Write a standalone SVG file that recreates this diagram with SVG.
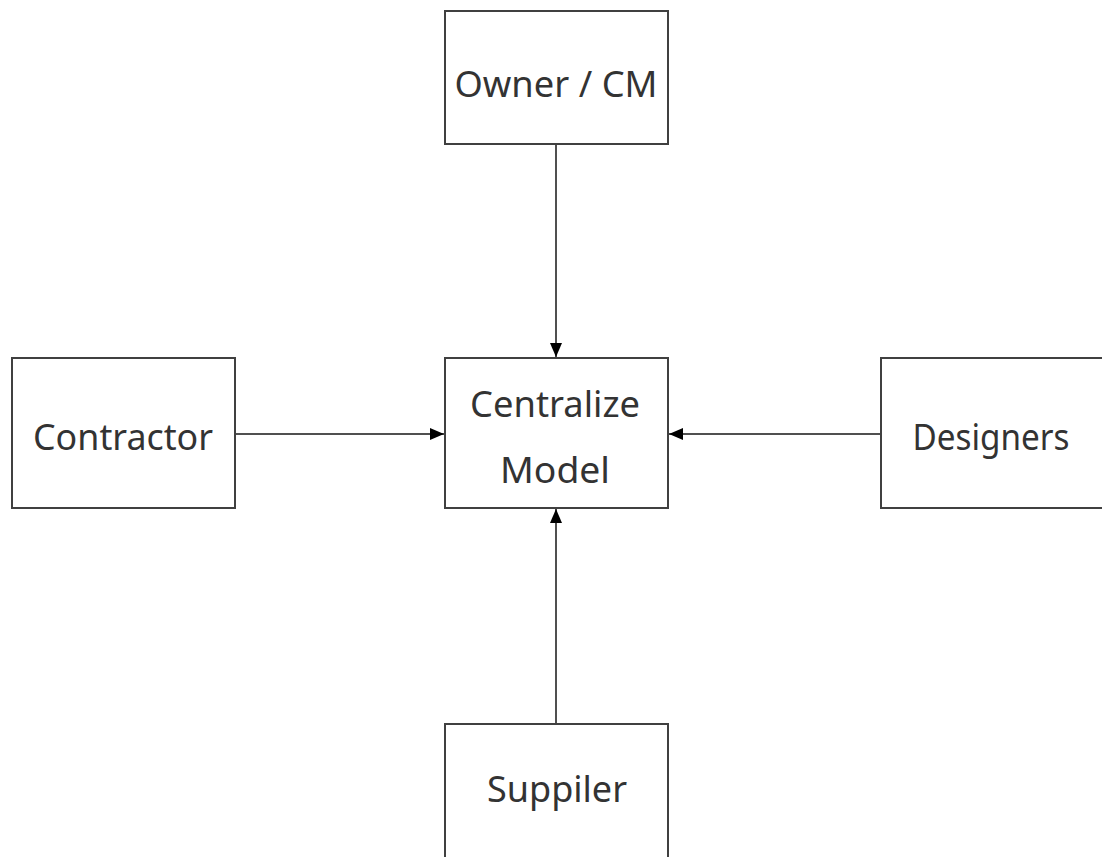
<svg xmlns="http://www.w3.org/2000/svg" width="1102" height="857" viewBox="0 0 1102 857">
  <style>
    .box { fill: #ffffff; stroke: #404040; stroke-width: 2; }
    .label { font-family: "Noto Sans", "Open Sans", sans-serif; font-size: 36px; fill: #333333; text-anchor: middle; }
    .conn { stroke: #505050; stroke-width: 2; fill: none; marker-end: url(#arrow); }
  </style>
  <defs>
    <marker id="arrow" viewBox="0 0 14 12" refX="14" refY="6" markerWidth="14" markerHeight="12" markerUnits="userSpaceOnUse" orient="auto">
      <path d="M0,0 L14,6 L0,12 Z" fill="#000000"/>
    </marker>
  </defs>
  <rect width="1102" height="857" fill="#ffffff"/>

  <g id="connectors">
    <line class="conn" x1="556" y1="145" x2="556" y2="357"/>
    <line class="conn" x1="236" y1="434" x2="444" y2="434"/>
    <line class="conn" x1="881" y1="434" x2="669" y2="434"/>
    <line class="conn" x1="556" y1="723" x2="556" y2="509"/>
  </g>

  <g id="owner">
    <rect class="box" x="445" y="11" width="223" height="133"/>
    <text class="label" x="556" y="97" textLength="203" lengthAdjust="spacingAndGlyphs">Owner / CM</text>
  </g>
  <g id="contractor">
    <rect class="box" x="12" y="358" width="223" height="150"/>
    <text class="label" x="123" y="450" textLength="180" lengthAdjust="spacingAndGlyphs">Contractor</text>
  </g>
  <g id="model">
    <rect class="box" x="445" y="358" width="223" height="150"/>
    <text class="label" x="555" y="417" textLength="170" lengthAdjust="spacingAndGlyphs">Centralize</text>
    <text class="label" x="555" y="483" textLength="110" lengthAdjust="spacingAndGlyphs">Model</text>
  </g>
  <g id="designers">
    <rect class="box" x="881" y="358" width="230" height="150"/>
    <text class="label" x="991" y="450" textLength="157" lengthAdjust="spacingAndGlyphs">Designers</text>
  </g>
  <g id="supplier">
    <rect class="box" x="445" y="724" width="223" height="140"/>
    <text class="label" x="557" y="802" textLength="140" lengthAdjust="spacingAndGlyphs">Suppiler</text>
  </g>
</svg>
